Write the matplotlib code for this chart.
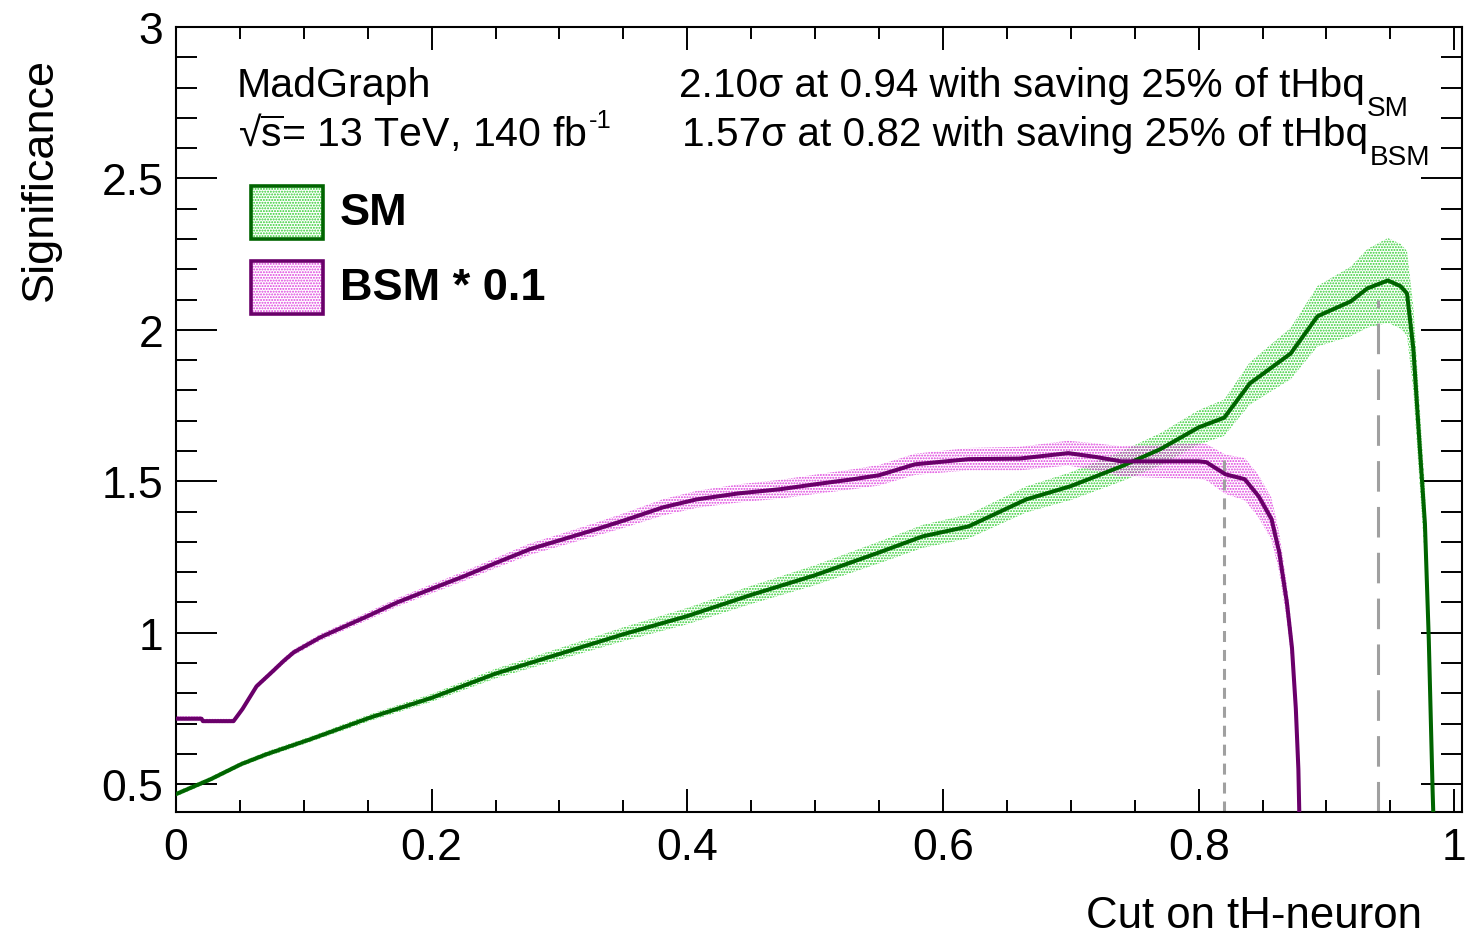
import matplotlib
matplotlib.use("Agg")
import matplotlib.pyplot as plt
from matplotlib.patches import Rectangle
from matplotlib.ticker import MultipleLocator, FuncFormatter

plt.rcParams["font.family"] = ["Liberation Sans", "DejaVu Sans"]
plt.rcParams["mathtext.fontset"] = "custom"
plt.rcParams["mathtext.rm"] = "Liberation Sans"
plt.rcParams["mathtext.it"] = "Liberation Sans:italic"
plt.rcParams["mathtext.bf"] = "Liberation Sans:bold"
plt.rcParams["hatch.linewidth"] = 0.95

# ---- significance scan: SM sample ----
sm_cut = [0.0, 0.027, 0.051, 0.071, 0.105, 0.152, 0.2, 0.25, 0.3, 0.35,
          0.4, 0.45, 0.5, 0.55, 0.584, 0.62, 0.665, 0.7, 0.74, 0.77,
          0.8, 0.82, 0.84, 0.872, 0.893, 0.919, 0.932, 0.948, 0.958, 0.963,
          0.968, 0.973, 0.977, 0.980, 0.983, 0.985]
sm_sig = [0.467, 0.516, 0.566, 0.599, 0.648, 0.72, 0.785, 0.865, 0.93, 0.995,
          1.055, 1.125, 1.19, 1.265, 1.318, 1.351, 1.44, 1.484, 1.55, 1.606,
          1.678, 1.71, 1.823, 1.922, 2.045, 2.094, 2.137, 2.163, 2.144, 2.12,
          1.935, 1.61, 1.36, 0.98, 0.48, 0.2]
sm_err = [0.008, 0.008, 0.008, 0.009, 0.009, 0.011, 0.013, 0.016, 0.019, 0.023,
          0.027, 0.03, 0.033, 0.036, 0.038, 0.04, 0.043, 0.046, 0.05, 0.053,
          0.057, 0.06, 0.07, 0.085, 0.1, 0.115, 0.13, 0.14, 0.14, 0.14,
          0.14, 0.13, 0.12, 0.1, 0.08, 0.06]

# ---- significance scan: BSM sample (scaled by 0.1) ----
bsm_cut = [0.0, 0.02, 0.021, 0.045, 0.052, 0.063, 0.075, 0.084, 0.092, 0.113,
           0.15, 0.173, 0.2, 0.225, 0.25, 0.277, 0.3, 0.329, 0.35, 0.381,
           0.407, 0.44, 0.473, 0.5, 0.53, 0.55, 0.578, 0.62, 0.66, 0.698,
           0.72, 0.739, 0.77, 0.8, 0.806, 0.821, 0.836, 0.847, 0.857, 0.863,
           0.869, 0.873, 0.876, 0.878, 0.879]
bsm_sig = [0.716, 0.716, 0.708, 0.708, 0.748, 0.823, 0.87, 0.906, 0.935, 0.985,
           1.055, 1.10, 1.145, 1.186, 1.23, 1.276, 1.305, 1.342, 1.37, 1.414,
           1.44, 1.46, 1.474, 1.49, 1.507, 1.52, 1.556, 1.573, 1.575, 1.593,
           1.58, 1.566, 1.566, 1.566, 1.563, 1.523, 1.507, 1.45, 1.375, 1.266,
           1.10, 0.95, 0.75, 0.55, 0.35]
bsm_err = [0.008, 0.008, 0.008, 0.008, 0.008, 0.009, 0.009, 0.01, 0.01, 0.011,
           0.013, 0.014, 0.015, 0.016, 0.017, 0.019, 0.02, 0.022, 0.024, 0.027,
           0.028, 0.03, 0.031, 0.032, 0.033, 0.034, 0.035, 0.037, 0.039, 0.041,
           0.045, 0.05, 0.055, 0.058, 0.06, 0.065, 0.07, 0.07, 0.07, 0.065,
           0.06, 0.06, 0.06, 0.06, 0.06]

# ---- best working points ----
best_sm = (0.94, 2.10)
best_bsm = (0.82, 1.57)

series = [
    dict(x=sm_cut, y=sm_sig, e=sm_err, line="#006400", band="#2ecc2e", label="SM"),
    dict(x=bsm_cut, y=bsm_sig, e=bsm_err, line="#6a006a", band="#dd3cdd", label="BSM * 0.1"),
]

W, H = 1468, 937
fig = plt.figure(figsize=(W / 100, H / 100), dpi=100)
ax = fig.add_axes([176 / W, 124 / H, 1286 / W, 785 / H])
ax.set_xlim(0, 1.006)
ax.set_ylim(0.408, 3.0)

for s in series:
    lo = [v - e for v, e in zip(s["y"], s["e"])]
    hi = [v + e for v, e in zip(s["y"], s["e"])]
    ax.fill_between(s["x"], lo, hi, facecolor="none", edgecolor=s["band"],
                    hatch="......", linewidth=0, zorder=1)

ax.vlines(best_sm[0], 0.408, best_sm[1], colors="#a0a0a0", linewidth=2.2,
          linestyles=(0, (10, 5)), zorder=2)
ax.vlines(best_bsm[0], 0.408, best_bsm[1], colors="#a0a0a0", linewidth=2.2,
          linestyles=(0, (3.6, 2.6)), zorder=2)

for s in series:
    ax.plot(s["x"], s["y"], color=s["line"], linewidth=2.9, zorder=3)

# axes styling
for sp in ax.spines.values():
    sp.set_linewidth(1.5)
ax.xaxis.set_major_locator(MultipleLocator(0.2))
ax.xaxis.set_minor_locator(MultipleLocator(0.05))
ax.yaxis.set_major_locator(MultipleLocator(0.5))
ax.yaxis.set_minor_locator(MultipleLocator(0.1))
fmt = FuncFormatter(lambda v, p: f"{v:g}")
ax.xaxis.set_major_formatter(fmt)
ax.yaxis.set_major_formatter(fmt)
ax.tick_params(which="both", direction="in", top=True, right=True, width=1.4,
               labelsize=32)
ax.tick_params(axis="x", which="major", length=16.5, pad=11)
ax.tick_params(axis="x", which="minor", length=8.6)
ax.tick_params(axis="y", which="major", length=29.5, pad=9)
ax.tick_params(axis="y", which="minor", length=15)

fig.text(1422 / W, 1 - 917 / H, "Cut on tH-neuron", fontsize=31.5,
         ha="right", va="center")
fig.text(40 / W, 1 - 58 / H, "Significance", fontsize=32.5,
         rotation=90, ha="center", va="top")

# annotations
fs = 29.6
fig.text(237 / W, 1 - 97 / H, "MadGraph", fontsize=fs, va="baseline")
fig.text(238 / W, 1 - 146 / H, r"√$\overline{\mathrm{s}}$= 13 TeV, 140 fb",
         fontsize=fs, va="baseline")
renderer = fig.canvas.get_renderer()
lumi = fig.texts[-1]
fig.text((lumi.get_window_extent(renderer).x1 + 2) / W, 1 - 128 / H, "-1",
         fontsize=fs * 0.62, va="baseline")

best_lines = [
    (679, 97, f"{best_sm[1]:.2f}σ at {best_sm[0]:.2f} with saving 25% of tHbq", "SM"),
    (682, 146, f"{best_bsm[1]:.2f}σ at {best_bsm[0]:.2f} with saving 25% of tHbq", "BSM"),
]
for x0, base, txt, sub in best_lines:
    t = fig.text(x0 / W, 1 - base / H, txt, fontsize=fs * 0.985, va="baseline")
    x1 = t.get_window_extent(renderer).x1
    fig.text((x1 + 2) / W, 1 - (base + 19) / H, sub, fontsize=fs * 0.68,
             va="baseline")

# legend
box_x, box_w, box_h = 75 / 1286, 72 / 1286, 53 / 785
box_tops = [(813 - 187) / 785, (813 - 262) / 785]
for s, top in zip(series, box_tops):
    ax.add_patch(Rectangle((box_x, top - box_h), box_w, box_h, transform=ax.transAxes,
                           facecolor="none", edgecolor=s["band"], hatch="......",
                           linewidth=0, zorder=4, clip_on=False))
    ax.add_patch(Rectangle((box_x, top - box_h), box_w, box_h, transform=ax.transAxes,
                           facecolor="none", edgecolor=s["line"], linewidth=2.6,
                           zorder=5, clip_on=False))
    ax.text(164 / 1286, top - box_h / 2, s["label"], transform=ax.transAxes,
            fontsize=32.5, fontweight="bold", va="center", ha="left")

fig.savefig("out.png", dpi=100)
